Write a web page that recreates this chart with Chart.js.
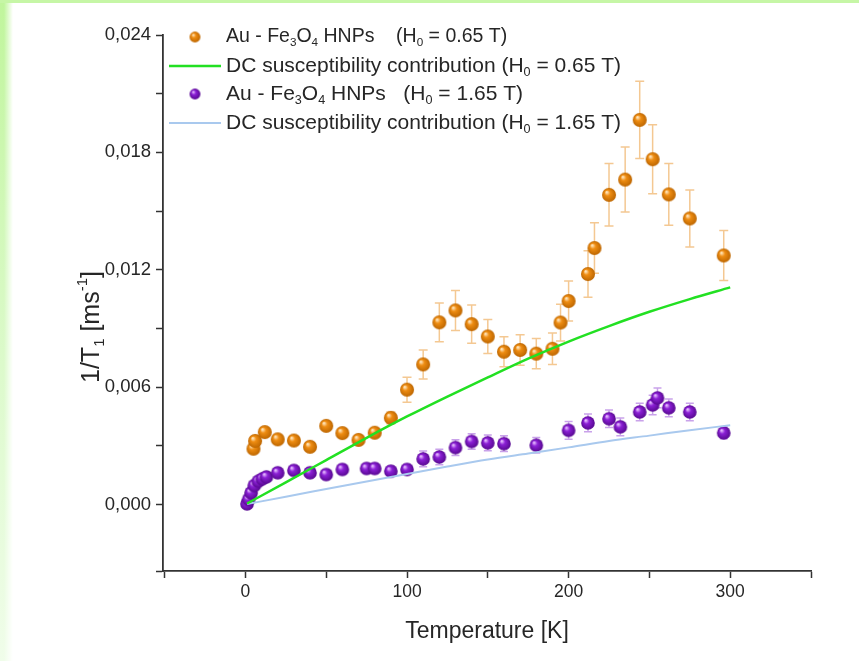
<!DOCTYPE html>
<html>
<head>
<meta charset="utf-8">
<script src="https://cdn.jsdelivr.net/npm/chart.js@4.4.1/dist/chart.umd.min.js"></script>
<style>
    html, body { margin: 0; padding: 0; }
    body { width: 859px; height: 661px; background: #fff; position: relative; overflow: hidden; }
    #edgeLeft {
        position: absolute; left: 0; top: 0; width: 13px; height: 661px;
        background: linear-gradient(to bottom, #c0f59c, #dcfacb 55%, #f0fdea);
        -webkit-mask-image: linear-gradient(to right, #000 0, #000 4px, transparent 13px);
    }
    #edgeTop { position: absolute; left: 0; top: 0; width: 859px; height: 3px; background: #c6f6a6; }
    canvas { position: absolute; left: 0; top: 0; }
</style>
</head>
<body>
<div id="edgeLeft"></div>
<div id="edgeTop"></div>
<canvas id="myChart" width="859" height="661"></canvas>
<script>
// Au - Fe3O4 HNPs, H0 = 0.65 T
const tempOrange = [5, 6, 12, 20, 30, 40, 50, 60, 70, 80, 90, 100, 110, 120, 130, 140, 150, 160, 170, 180, 190, 195, 200, 212, 216, 225, 235, 244, 252, 262, 275, 296];
const rateOrange = [0.00285, 0.00325, 0.00370, 0.00333, 0.00327, 0.00295, 0.00402, 0.00365, 0.00330, 0.00367, 0.00443, 0.00587, 0.00716, 0.00931, 0.00992, 0.00922, 0.00859, 0.00781, 0.00790, 0.00771, 0.00796, 0.00930, 0.01040, 0.01178, 0.01311, 0.01583, 0.01661, 0.01966, 0.01765, 0.01585, 0.01462, 0.01273];
const errOrange = [0.0002, 0.0002, 0.0002, 0.0002, 0.0002, 0.0002, 0.0002, 0.0002, 0.0002, 0.0002, 0.0003, 0.00064, 0.00074, 0.00099, 0.00102, 0.00098, 0.00087, 0.00077, 0.00078, 0.00077, 0.00081, 0.00094, 0.00102, 0.00119, 0.00129, 0.0016, 0.00166, 0.00197, 0.00176, 0.00158, 0.00146, 0.00128];

// Au - Fe3O4 HNPs, H0 = 1.65 T
const tempPurple = [1, 2, 3.5, 5.5, 8, 10.5, 13, 20, 30, 40, 50, 60, 75, 80, 90, 100, 110, 120, 130, 140, 150, 160, 180, 200, 212, 225, 232, 244, 252, 255, 262, 275, 296];
const ratePurple = [0.00003, 0.00026, 0.00060, 0.00097, 0.00119, 0.00131, 0.00141, 0.00162, 0.00174, 0.00162, 0.00153, 0.00179, 0.00184, 0.00184, 0.00170, 0.00179, 0.00233, 0.00243, 0.00291, 0.00322, 0.00315, 0.00311, 0.00303, 0.00379, 0.00417, 0.00438, 0.00397, 0.00473, 0.00509, 0.00545, 0.00494, 0.00473, 0.00366];
const errPurple = [0.0002, 0.0002, 0.0002, 0.0002, 0.0002, 0.0002, 0.0002, 0.00025, 0.00025, 0.00025, 0.00025, 0.00025, 0.00025, 0.00025, 0.00025, 0.00025, 0.0004, 0.0004, 0.0004, 0.0004, 0.0004, 0.0004, 0.0004, 0.00045, 0.00045, 0.00045, 0.00045, 0.00045, 0.0005, 0.0005, 0.00045, 0.00045, 0.0003];

// DC susceptibility contributions
const fitTemp = [1, 25, 50, 75, 100, 125, 150, 175, 200, 225, 250, 275, 300];
const fitLow = [0.00005, 0.00113, 0.00227, 0.00341, 0.00450, 0.00552, 0.00650, 0.00746, 0.00833, 0.00912, 0.00985, 0.01050, 0.01110];
const fitHigh = [0.00002, 0.00040, 0.00079, 0.00118, 0.00156, 0.00194, 0.00230, 0.00261, 0.00292, 0.00325, 0.00352, 0.00380, 0.00405];

// axis ticks (labels only on the major ones)
const xTicks = [-50, 0, 50, 100, 150, 200, 250, 300, 350];
const xLabels = [0, 100, 200, 300];
const yTicks = [-0.0034, 0, 0.003, 0.006, 0.009, 0.012, 0.015, 0.018, 0.021, 0.024];
const yLabels = ['0,000', '0,006', '0,012', '0,018', '0,024'];

const FONT = "'Liberation Sans', Arial, sans-serif";
const TEXT = '#262626';

function toPoints(xs, ys) {
    return xs.map((x, i) => ({ x: x, y: ys[i] }));
}

function makeSphere(r, light, mid, dark) {
    const c = document.createElement('canvas');
    const s = Math.ceil(r * 2) + 2;
    c.width = s;
    c.height = s;
    const g = c.getContext('2d');
    const m = s / 2;
    const grad = g.createRadialGradient(m - r * 0.35, m - r * 0.4, r * 0.08, m, m, r);
    grad.addColorStop(0, light);
    grad.addColorStop(0.35, mid);
    grad.addColorStop(1, dark);
    g.fillStyle = grad;
    g.beginPath();
    g.arc(m, m, r, 0, Math.PI * 2);
    g.fill();
    return c;
}

const orangeBall = makeSphere(7, '#ffe6bd', '#ef8d12', '#bd6600');
const purpleBall = makeSphere(6.8, '#e6bcff', '#8c20d6', '#570890');
const orangeDot = makeSphere(5.4, '#ffe6bd', '#ef8d12', '#bd6600');
const purpleDot = makeSphere(5.4, '#e6bcff', '#8c20d6', '#570890');

// text with sub/superscripts, parts = [[text, ''|'sub'|'sup'], ...]
function drawRich(ctx, parts, x, y, size) {
    let cx = x;
    ctx.textBaseline = 'middle';
    ctx.textAlign = 'left';
    parts.forEach(([txt, kind]) => {
        let fs = size, dy = 0;
        if (kind === 'sub') { fs = size * 0.6; dy = size * 0.32; }
        if (kind === 'sup') { fs = size * 0.6; dy = -size * 0.38; }
        ctx.font = fs + 'px ' + FONT;
        ctx.fillText(txt, cx, y + dy);
        cx += ctx.measureText(txt).width;
    });
    return cx - x;
}

function richWidth(ctx, parts, size) {
    let w = 0;
    parts.forEach(([txt, kind]) => {
        const fs = kind ? size * 0.6 : size;
        ctx.font = fs + 'px ' + FONT;
        w += ctx.measureText(txt).width;
    });
    return w;
}

const labelLow = [['Au - Fe', ''], ['3', 'sub'], ['O', ''], ['4', 'sub'], [' HNPs    (H', ''], ['0', 'sub'], [' = 0.65 T)', '']];
const labelFitLow = [['DC susceptibility contribution (H', ''], ['0', 'sub'], [' = 0.65 T)', '']];
const labelHigh = [['Au - Fe', ''], ['3', 'sub'], ['O', ''], ['4', 'sub'], [' HNPs   (H', ''], ['0', 'sub'], [' = 1.65 T)', '']];
const labelFitHigh = [['DC susceptibility contribution (H', ''], ['0', 'sub'], [' = 1.65 T)', '']];
const yTitle = [['1/T', ''], ['1', 'sub'], [' [ms', ''], ['-1', 'sup'], [']', '']];

function drawBars(ctx, xs, ys, ts, vs, es, color, cap) {
    ctx.save();
    ctx.strokeStyle = color;
    ctx.lineWidth = 1.5;
    ts.forEach((t, i) => {
        const px = xs.getPixelForValue(t);
        const top = ys.getPixelForValue(vs[i] + es[i]);
        const bot = ys.getPixelForValue(vs[i] - es[i]);
        ctx.beginPath();
        ctx.moveTo(px, top); ctx.lineTo(px, bot);
        ctx.moveTo(px - cap, top); ctx.lineTo(px + cap, top);
        ctx.moveTo(px - cap, bot); ctx.lineTo(px + cap, bot);
        ctx.stroke();
    });
    ctx.restore();
}

const errorBars = {
    id: 'errorBars',
    beforeDatasetsDraw(chart) {
        const { ctx, scales } = chart;
        drawBars(ctx, scales.x, scales.y, tempOrange, rateOrange, errOrange, '#f4c892', 4.5);
        drawBars(ctx, scales.x, scales.y, tempPurple, ratePurple, errPurple, '#c9a2ea', 4);
    }
};

const legendAndTitles = {
    id: 'legendAndTitles',
    afterDraw(chart) {
        const ctx = chart.ctx;
        const area = chart.chartArea;
        ctx.save();
        ctx.fillStyle = TEXT;

        // legend
        const tx = 226;
        const rows = [37, 66, 94, 123];
        ctx.drawImage(orangeDot, 195 - orangeDot.width / 2, rows[0] - orangeDot.height / 2);
        ctx.drawImage(purpleDot, 195 - purpleDot.width / 2, rows[2] - purpleDot.height / 2);
        ctx.lineWidth = 2.5;
        ctx.strokeStyle = '#22e022';
        ctx.beginPath(); ctx.moveTo(169, rows[1]); ctx.lineTo(221, rows[1]); ctx.stroke();
        ctx.lineWidth = 2;
        ctx.strokeStyle = '#a9c9ee';
        ctx.beginPath(); ctx.moveTo(169, rows[3]); ctx.lineTo(221, rows[3]); ctx.stroke();
        drawRich(ctx, labelLow, tx, rows[0], 19.5);
        drawRich(ctx, labelFitLow, tx, rows[1], 21);
        drawRich(ctx, labelHigh, tx, rows[2], 21);
        drawRich(ctx, labelFitHigh, tx, rows[3], 21);

        // x title
        ctx.font = '23px ' + FONT;
        ctx.textAlign = 'center';
        ctx.textBaseline = 'middle';
        ctx.fillText('Temperature [K]', (area.left + area.right) / 2, 632);

        // y title
        const w = richWidth(ctx, yTitle, 25);
        ctx.translate(92, 327);
        ctx.rotate(-Math.PI / 2);
        drawRich(ctx, yTitle, -w / 2, 0, 25);
        ctx.restore();
    }
};

myChart = new Chart(document.getElementById('myChart'), {
    type: 'scatter',
    data: {
        datasets: [{
            label: 'DC susceptibility contribution (H0 = 0.65 T)',
            type: 'line',
            data: toPoints(fitTemp, fitLow),
            borderColor: '#22e022',
            borderWidth: 2.5,
            pointRadius: 0,
            showLine: true,
            fill: false,
            cubicInterpolationMode: 'monotone',
            order: 0
        }, {
            label: 'Au - Fe3O4 HNPs (H0 = 0.65 T)',
            data: toPoints(tempOrange, rateOrange),
            pointStyle: orangeBall,
            pointRadius: 7,
            order: 1
        }, {
            label: 'DC susceptibility contribution (H0 = 1.65 T)',
            type: 'line',
            data: toPoints(fitTemp, fitHigh),
            borderColor: '#a9c9ee',
            borderWidth: 2,
            pointRadius: 0,
            showLine: true,
            fill: false,
            cubicInterpolationMode: 'monotone',
            order: 2
        }, {
            label: 'Au - Fe3O4 HNPs (H0 = 1.65 T)',
            data: toPoints(tempPurple, ratePurple),
            pointStyle: purpleBall,
            pointRadius: 6.8,
            order: 3
        }]
    },
    options: {
        responsive: false,
        animation: false,
        devicePixelRatio: 1,
        layout: {
            padding: { left: 0, top: 35, right: 48, bottom: 0 }
        },
        plugins: {
            legend: { display: false },
            tooltip: { enabled: false }
        },
        scales: {
            x: {
                type: 'linear',
                min: -51,
                max: 350,
                afterFit: (s) => { s.height = 90; },
                afterBuildTicks: (s) => { s.ticks = xTicks.map(v => ({ value: v })); },
                border: { display: true, color: '#333', width: 1.8 },
                grid: { drawOnChartArea: false, drawTicks: true, tickLength: 7, tickColor: '#333', tickWidth: 1.5 },
                ticks: {
                    autoSkip: false,
                    maxRotation: 0,
                    padding: 4,
                    color: TEXT,
                    font: { family: FONT, size: 17.5 },
                    callback: (v) => xLabels.includes(v) ? String(v) : ''
                }
            },
            y: {
                type: 'linear',
                min: -0.0034,
                max: 0.024,
                afterFit: (s) => { s.width = 163; },
                afterBuildTicks: (s) => { s.ticks = yTicks.map(v => ({ value: v })); },
                border: { display: true, color: '#333', width: 1.8 },
                grid: { drawOnChartArea: false, drawTicks: true, tickLength: 7, tickColor: '#333', tickWidth: 1.5 },
                ticks: {
                    autoSkip: false,
                    padding: 5,
                    color: TEXT,
                    font: { family: FONT, size: 18.5 },
                    callback: (v) => {
                        const k = Math.round(v / 0.006);
                        return (v >= 0 && Math.abs(k * 0.006 - v) < 1e-9) ? yLabels[k] : '';
                    }
                }
            }
        }
    },
    plugins: [errorBars, legendAndTitles]
});
</script>
</body>
</html>
